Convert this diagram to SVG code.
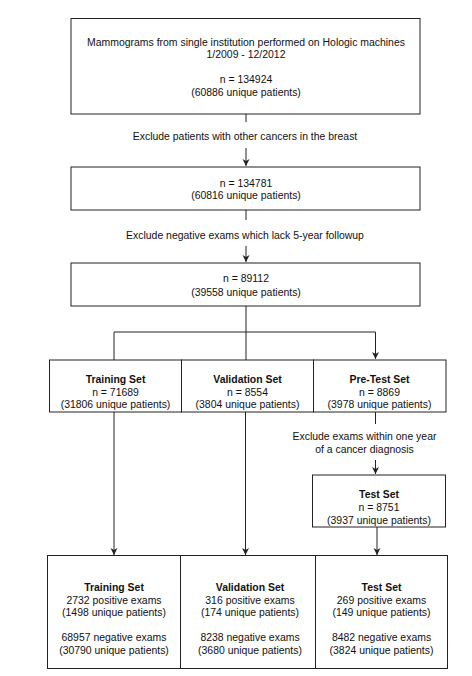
<svg xmlns="http://www.w3.org/2000/svg" width="472" height="676" viewBox="0 0 472 676">
<defs>
<style>
.box{fill:#fff;stroke:#222;stroke-width:1}
.t{font-family:"Liberation Sans",Arial,Helvetica,sans-serif;font-size:10.45px;fill:#111;text-anchor:middle}
.b{font-weight:bold}
.c{fill:none;stroke:#222;stroke-width:1}
</style>
<marker id="ah" markerWidth="8" markerHeight="8" refX="7" refY="4" orient="auto" markerUnits="userSpaceOnUse">
<path d="M0,0.5 L7,4 L0,7.5 L2,4 Z" fill="#222"/>
</marker>
</defs>
<rect width="472" height="676" fill="#fff"/>
<g id="connectors">
<path class="c" d="M246,114 V122"/>
<path class="c" d="M246,148 V166" marker-end="url(#ah)"/>
<path class="c" d="M246,210 V220"/>
<path class="c" d="M246,246 V262" marker-end="url(#ah)"/>
<path class="c" d="M246,306 V360"/>
<path class="c" d="M114,360 V332 H375.5 V359" marker-end="url(#ah)"/>
<path class="c" d="M375.5,412 V424"/>
<path class="c" d="M375.5,460 V474" marker-end="url(#ah)"/>
<path class="c" d="M114,412 V555" marker-end="url(#ah)"/>
<path class="c" d="M245.5,412 V555" marker-end="url(#ah)"/>
<path class="c" d="M377,527 V555" marker-end="url(#ah)"/>
<text class="t" x="245" y="139.5">Exclude patients with other cancers in the breast</text>
<text class="t" x="245" y="238.5">Exclude negative exams which lack 5-year followup</text>
<text class="t" x="364.5" y="440">Exclude exams within one year</text>
<text class="t" x="364.5" y="452.5">of a cancer diagnosis</text>
</g>
<g id="source">
<rect class="box" x="71" y="18.5" width="349" height="95.5"/>
<text class="t" x="246" y="45.5">Mammograms from single institution performed on Hologic machines</text>
<text class="t" x="246" y="58">1/2009 - 12/2012</text>
<text class="t" x="246" y="83">n = 134924</text>
<text class="t" x="246" y="95.5">(60886 unique patients)</text>
</g>
<g id="step1">
<rect class="box" x="71" y="167" width="349" height="43"/>
<text class="t" x="246" y="186.5">n = 134781</text>
<text class="t" x="246" y="199">(60816 unique patients)</text>
</g>
<g id="step2">
<rect class="box" x="71" y="263" width="349" height="43"/>
<text class="t" x="246" y="282">n = 89112</text>
<text class="t" x="246" y="295.5">(39558 unique patients)</text>
</g>
<g id="training">
<rect class="box" x="49.5" y="360" width="132" height="52"/>
<text class="t b" x="115.5" y="382.5">Training Set</text>
<text class="t" x="115.5" y="395.5">n = 71689</text>
<text class="t" x="115.5" y="408">(31806 unique patients)</text>
</g>
<g id="validation">
<rect class="box" x="181.5" y="360" width="132" height="52"/>
<text class="t b" x="247.5" y="382.5">Validation Set</text>
<text class="t" x="247.5" y="395.5">n = 8554</text>
<text class="t" x="247.5" y="408">(3804 unique patients)</text>
</g>
<g id="pretest">
<rect class="box" x="313.5" y="360" width="132.5" height="52"/>
<text class="t b" x="379.5" y="382.5">Pre-Test Set</text>
<text class="t" x="379.5" y="395.5">n = 8869</text>
<text class="t" x="379.5" y="408">(3978 unique patients)</text>
</g>
<g id="testset">
<rect class="box" x="312.5" y="475" width="133" height="52"/>
<text class="t b" x="379" y="497.5">Test Set</text>
<text class="t" x="379" y="510.5">n = 8751</text>
<text class="t" x="379" y="523.5">(3937 unique patients)</text>
</g>
<g id="training-final">
<rect class="box" x="47.5" y="555.5" width="133" height="113"/>
<text class="t b" x="114" y="590.5">Training Set</text>
<text class="t" x="114" y="603.5">2732 positive exams</text>
<text class="t" x="114" y="616">(1498 unique patients)</text>
<text class="t" x="114" y="641">68957 negative exams</text>
<text class="t" x="114" y="653.5">(30790 unique patients)</text>
</g>
<g id="validation-final">
<rect class="box" x="180.5" y="555.5" width="135" height="113"/>
<text class="t b" x="250" y="590.5">Validation Set</text>
<text class="t" x="250" y="603.5">316 positive exams</text>
<text class="t" x="250" y="616">(174 unique patients)</text>
<text class="t" x="250" y="641">8238 negative exams</text>
<text class="t" x="250" y="653.5">(3680 unique patients)</text>
</g>
<g id="test-final">
<rect class="box" x="315.5" y="555.5" width="132" height="113"/>
<text class="t b" x="381.5" y="590.5">Test Set</text>
<text class="t" x="381.5" y="603.5">269 positive exams</text>
<text class="t" x="381.5" y="616">(149 unique patients)</text>
<text class="t" x="381.5" y="641">8482 negative exams</text>
<text class="t" x="381.5" y="653.5">(3824 unique patients)</text>
</g>
</svg>
